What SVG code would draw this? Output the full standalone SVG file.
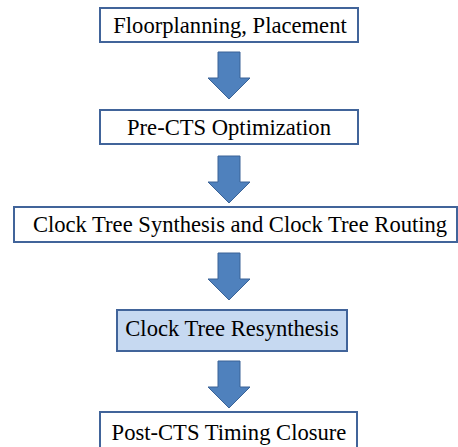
<svg xmlns="http://www.w3.org/2000/svg" width="458" height="447" viewBox="0 0 458 447">
<defs>
<style>
.box{fill:#ffffff;stroke:#41649a;stroke-width:2}
.hl{fill:#c6d9f1}
.lbl{font-family:"Liberation Serif","Times New Roman",serif;font-size:22.6px;fill:#000;text-anchor:middle}
.arr{fill:#4f81bd;stroke:#3a6397;stroke-width:1}
</style>
<path id="dn" class="arr" d="M-11,0 H11 V26 H21 L0,47 L-21,26 H-11 Z"/>
</defs>
<rect width="458" height="447" fill="#fff"/>
<g id="connectors">
<use href="#dn" x="229" y="52"/>
<use href="#dn" x="229" y="156"/>
<use href="#dn" x="229" y="253"/>
<use href="#dn" x="229" y="361"/>
</g>
<g id="n1"><rect class="box" x="100" y="8" width="258" height="34"/><text class="lbl" x="230" y="33">Floorplanning, Placement</text></g>
<g id="n2"><rect class="box" x="100" y="110" width="258" height="34"/><text class="lbl" x="229" y="135">Pre-CTS Optimization</text></g>
<g id="n3"><rect class="box" x="14" y="207" width="443" height="35"/><text class="lbl" x="240" y="232">Clock Tree Synthesis and Clock Tree Routing</text></g>
<g id="n4"><rect class="box hl" x="117" y="310" width="230" height="41"/><text class="lbl" x="232" y="336">Clock Tree Resynthesis</text></g>
<g id="n5"><rect class="box" x="100" y="412" width="257" height="40"/><text class="lbl" x="229" y="440">Post-CTS Timing Closure</text></g>
</svg>
